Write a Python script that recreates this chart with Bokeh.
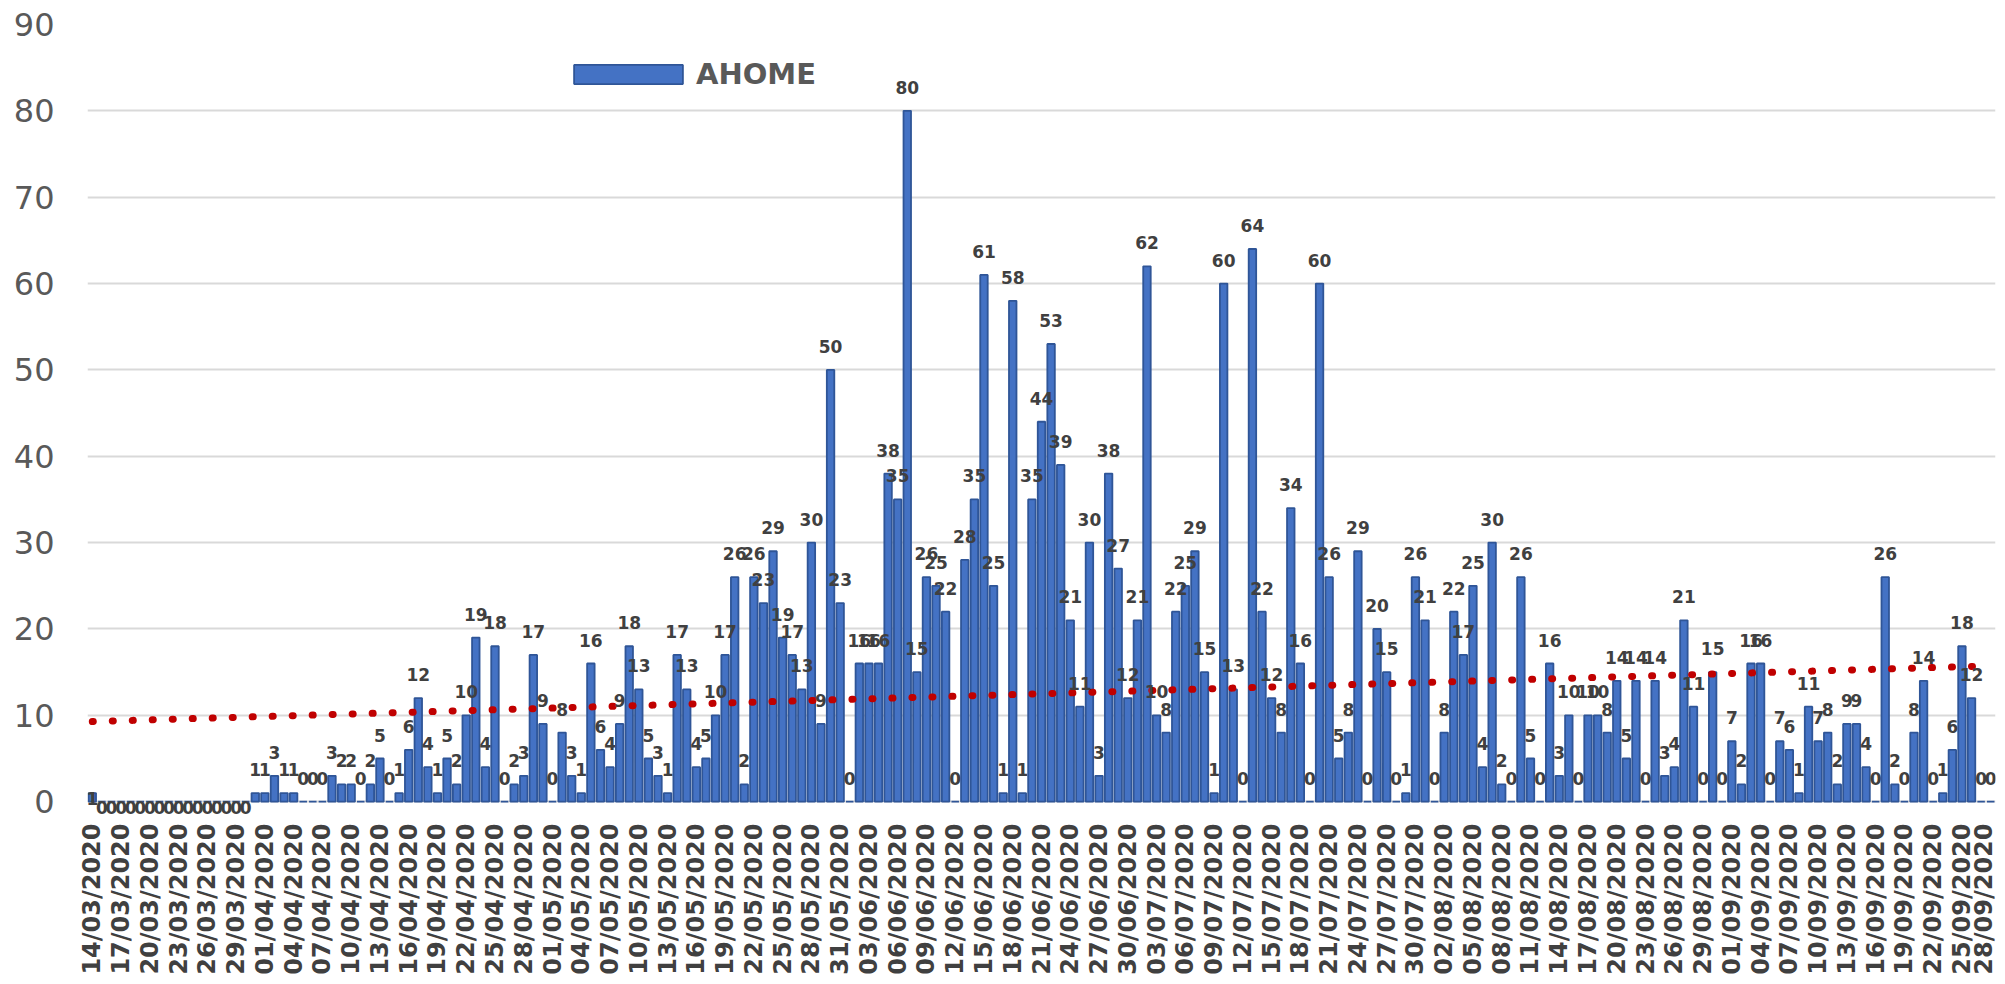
import numpy as np
import pandas as pd
from bokeh.plotting import figure
from bokeh.models import ColumnDataSource, FixedTicker, Legend, LegendItem, Range1d, LabelSet
from bokeh.core.properties import value
from bokeh.embed import file_html
from bokeh.resources import INLINE

series_name = "AHOME"
dates = [d.strftime("%d/%m/%Y") for d in pd.date_range("2020-03-14", "2020-09-28", freq="D")]

cases_mar = [1] + [0] * 16 + [1]
cases_apr = [1, 3, 1, 1, 0, 0, 0, 3, 2, 2, 0, 2, 5, 0, 1, 6, 12, 4, 1, 5, 2, 10, 19, 4, 18, 0, 2, 3, 17, 9]
cases_may = [0, 8, 3, 1, 16, 6, 4, 9, 18, 13, 5, 3, 1, 17, 13, 4, 5, 10, 17, 26, 2, 26, 23, 29, 19, 17, 13, 30, 9, 50, 23]
cases_jun = [0, 16, 16, 16, 38, 35, 80, 15, 26, 25, 22, 0, 28, 35, 61, 25, 1, 58, 1, 35, 44, 53, 39, 21, 11, 30, 3, 38, 27, 12]
cases_jul = [21, 62, 10, 8, 22, 25, 29, 15, 1, 60, 13, 0, 64, 22, 12, 8, 34, 16, 0, 60, 26, 5, 8, 29, 0, 20, 15, 0, 1, 26, 21]
cases_aug = [0, 8, 22, 17, 25, 4, 30, 2, 0, 26, 5, 0, 16, 3, 10, 0, 10, 10, 8, 14, 5, 14, 0, 14, 3, 4, 21, 11, 0, 15, 0]
cases_sep = [7, 2, 16, 16, 0, 7, 6, 1, 11, 7, 8, 2, 9, 9, 4, 0, 26, 2, 0, 8, 14, 0, 1, 6, 18, 12, 0, 0]
cases = cases_mar + cases_apr + cases_may + cases_jun + cases_jul + cases_aug + cases_sep

y_ticks = list(range(0, 91, 10))
date_tick_step = 3
low_label_days = 17  # first days whose labels sit on the axis in the original

n = len(cases)
idx = np.arange(n)
coef = np.polyfit(idx, np.array(cases, dtype=float), 1)
trend = np.polyval(coef, idx)

label_dy = [-12 if i < low_label_days else 17 for i in range(n)]
src = ColumnDataSource(dict(x=idx, y=cases, lbl=[str(v) for v in cases], dy=label_dy))

p = figure(frame_width=1908, frame_height=791, output_backend="svg", toolbar_location=None,
           x_range=Range1d(-0.5, n - 0.5), y_range=Range1d(-1.6, 90),
           min_border_left=87, min_border_top=24, min_border_right=2, min_border_bottom=164)
p.outline_line_color = None
p.background_fill_color = "white"
p.border_fill_color = "white"

bars = p.vbar(x="x", top="y", bottom=0, width=0.78, source=src, fill_color="#4472C4",
              line_color="#2F5597", line_width=1.8)

labels = LabelSet(x="x", y="y", text="lbl", source=src, text_align="center",
                  text_baseline="bottom", y_offset="dy", text_font=value("DejaVu Sans"),
                  text_font_style="bold", text_font_size="17px", text_color="#404040")
p.add_layout(labels)

p.line(idx, trend, line_color="#C00000", line_width=7, line_dash="1 19", line_cap="round")

p.xgrid.grid_line_color = None
p.ygrid.grid_line_color = "#d9d9d9"
p.ygrid.grid_line_width = 2
p.ygrid.ticker = FixedTicker(ticks=y_ticks)

p.yaxis.ticker = FixedTicker(ticks=y_ticks)
p.yaxis.axis_line_color = None
p.yaxis.major_tick_line_color = None
p.yaxis.minor_tick_line_color = None
p.yaxis.major_label_text_font = "DejaVu Sans"
p.yaxis.major_label_text_font_size = "32px"
p.yaxis.major_label_text_color = "#595959"
p.yaxis.major_label_standoff = 27

x_ticks = list(range(0, n, date_tick_step))
p.xaxis.ticker = FixedTicker(ticks=x_ticks)
p.xaxis.major_label_overrides = {i: dates[i] for i in x_ticks}
p.xaxis.major_label_orientation = np.pi / 2
p.xaxis.axis_line_color = None
p.xaxis.major_tick_line_color = None
p.xaxis.minor_tick_line_color = None
p.xaxis.major_label_text_font = "DejaVu Sans"
p.xaxis.major_label_text_font_style = "bold"
p.xaxis.major_label_text_font_size = "24px"
p.xaxis.major_label_text_color = "#404040"
p.xaxis.major_label_standoff = 2

legend = Legend(items=[LegendItem(label=series_name, renderers=[bars])], location=(473, 724),
                glyph_width=136, glyph_height=24, label_text_font="DejaVu Sans",
                label_text_font_style="bold", label_text_font_size="29px",
                label_text_color="#595959", label_standoff=0, padding=0, margin=0,
                border_line_color=None, background_fill_alpha=0)
p.add_layout(legend)

open("out.html", "w").write(file_html(p, INLINE))
